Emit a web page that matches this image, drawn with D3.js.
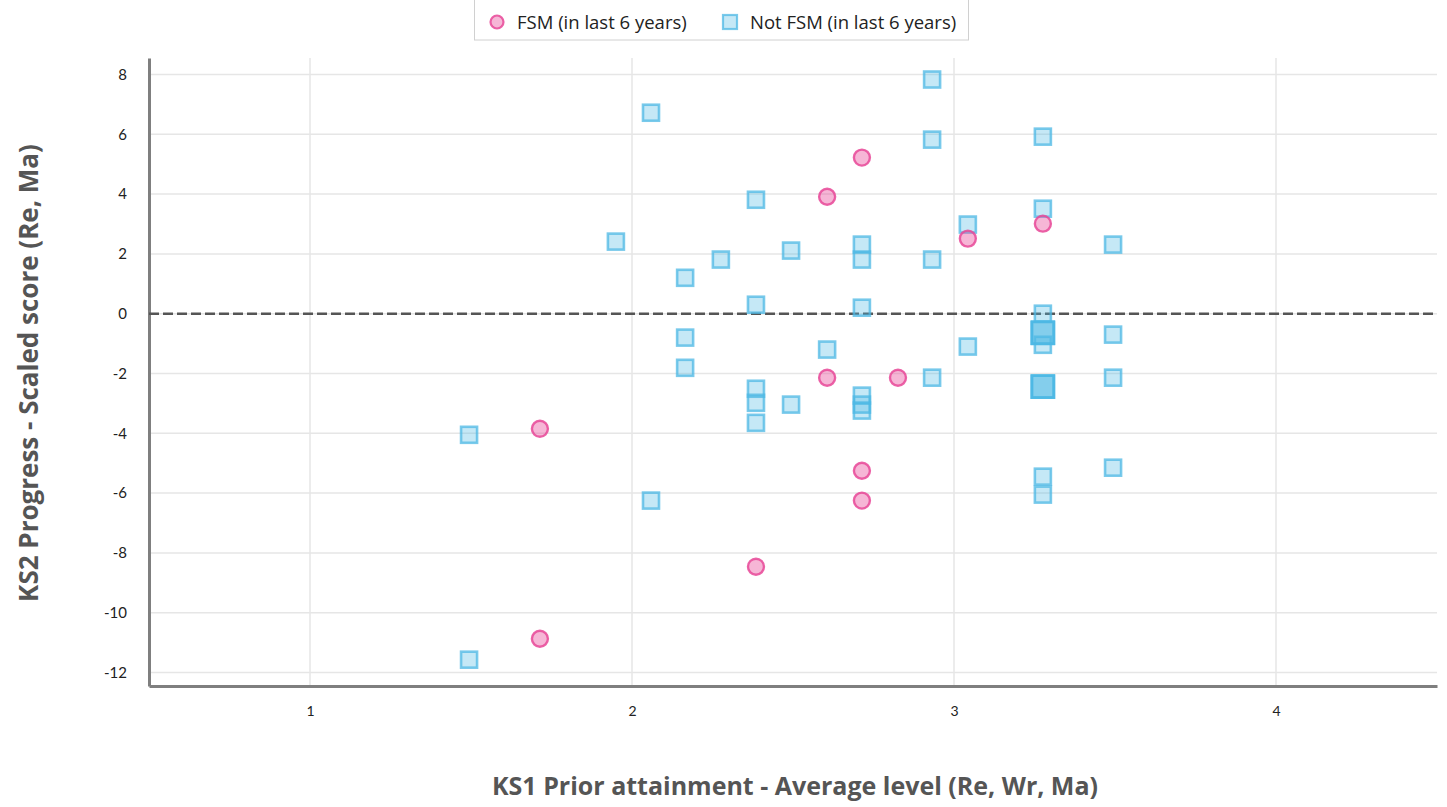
<!DOCTYPE html>
<html>
<head>
<meta charset="utf-8">
<script src="https://cdn.jsdelivr.net/npm/d3@7"></script>
<style>
  body { margin: 0; background: #fff; }
  svg { font-family: Lato, "Open Sans", sans-serif; }
</style>
</head>
<body>
<svg id="chart" width="1447" height="807"></svg>
<script>
// FSM pupils (circles)
const fsmX = [1.714, 1.714, 2.385, 2.606, 2.714, 2.606, 2.826, 2.714, 2.714, 3.043, 3.276];
const fsmY = [-3.85, -10.87, -8.46, 3.91, 5.22, -2.14, -2.14, -5.25, -6.25, 2.51, 3.01];

// Not FSM pupils (squares); count = pupils sharing the same spot
const notX = [1.494, 1.494, 1.950, 2.059, 2.059, 2.165, 2.165, 2.165, 2.276,
  2.385, 2.385, 2.385, 2.385, 2.385, 2.494, 2.494, 2.606,
  2.714, 2.714, 2.714, 2.714, 2.714, 2.714,
  2.932, 2.932, 2.932, 2.932, 3.043, 3.043,
  3.276, 3.276, 3.276, 3.276, 3.276, 3.276, 3.276, 3.276,
  3.494, 3.494, 3.494, 3.494];
const notY = [-4.05, -11.57, 2.41, 6.72, -6.25, 1.20, -0.80, -1.81, 1.81,
  3.81, 0.30, -2.51, -2.98, -3.65, 2.11, -3.04, -1.20,
  2.31, 1.81, 0.20, -2.74, -3.04, -3.24,
  7.83, 5.82, 1.81, -2.14, 2.98, -1.10,
  5.92, 3.51, 0.00, -0.64, -1.04, -2.44, -5.45, -6.05,
  2.31, -0.70, -2.14, -5.15];
const notCount = [1, 1, 1, 1, 1, 1, 1, 1, 1,
  1, 1, 1, 1, 1, 1, 1, 1,
  1, 1, 1, 1, 1, 1,
  1, 1, 1, 1, 1, 1,
  1, 1, 1, 3, 1, 3, 1, 1,
  1, 1, 1, 1];

const xTicks = [1, 2, 3, 4];
const yTicks = [-12, -10, -8, -6, -4, -2, 0, 2, 4, 6, 8];

const svg = d3.select('#chart');
const plotL = 149, plotR = 1437, plotT = 58, plotB = 686;

const x = d3.scaleLinear().domain([0.5, 4.5]).range([plotL, plotR]);
const y = d3.scaleLinear().domain([-12.45, 8.55]).range([plotB, plotT]);

const pink = 'rgb(232,72,152)';
const blue = 'rgb(78,184,228)';

// grid
svg.append('g').selectAll('line').data(xTicks).join('line')
    .attr('x1', d => x(d)).attr('x2', d => x(d))
    .attr('y1', plotT).attr('y2', plotB)
    .attr('stroke', '#e6e6e6').attr('stroke-width', 1.5);
svg.append('g').selectAll('line').data(yTicks).join('line')
    .attr('x1', plotL).attr('x2', plotR)
    .attr('y1', d => y(d)).attr('y2', d => y(d))
    .attr('stroke', '#e6e6e6').attr('stroke-width', 1.5);

// axes (plain hyphen for negatives, integers on x)
const yAxis = svg.append('g')
    .attr('transform', `translate(${plotL},0)`)
    .call(d3.axisLeft(y).tickValues(yTicks).tickFormat(d => String(d))
        .tickSize(0).tickPadding(22));
const xAxis = svg.append('g')
    .attr('transform', `translate(0,${plotB})`)
    .call(d3.axisBottom(x).tickValues(xTicks).tickFormat(d => String(d))
        .tickSize(0).tickPadding(20));
[yAxis, xAxis].forEach(g => {
    g.select('.domain').attr('stroke', '#7f7f7f').attr('stroke-width', 3);
    g.selectAll('text').attr('fill', '#222').style('font-family', 'Lato, sans-serif');
});
yAxis.selectAll('text').attr('font-size', 15);
xAxis.selectAll('text').attr('font-size', 14);

// zero line
svg.append('line')
    .attr('x1', plotL).attr('x2', plotR)
    .attr('y1', y(0)).attr('y2', y(0))
    .attr('stroke', '#555').attr('stroke-width', 2.5)
    .attr('stroke-dasharray', '10,4');

// Not FSM squares
const squares = [];
notX.forEach((v, i) => {
    for (let k = 0; k < notCount[i]; k++) {
        squares.push({ x: v, y: notY[i], big: notCount[i] > 1 });
    }
});
svg.append('g').selectAll('rect').data(squares).join('rect')
    .attr('x', d => x(d.x) - (d.big ? 11 : 8))
    .attr('y', d => y(d.y) - (d.big ? 11 : 8))
    .attr('width', d => d.big ? 22 : 16)
    .attr('height', d => d.big ? 22 : 16)
    .attr('fill', blue).attr('fill-opacity', 0.33)
    .attr('stroke', blue).attr('stroke-opacity', 0.75).attr('stroke-width', 2.6);

// FSM circles
svg.append('g').selectAll('circle').data(fsmX).join('circle')
    .attr('cx', d => x(d))
    .attr('cy', (d, i) => y(fsmY[i]))
    .attr('r', 8)
    .attr('fill', pink).attr('fill-opacity', 0.4)
    .attr('stroke', pink).attr('stroke-opacity', 0.85).attr('stroke-width', 2.4);

// axis titles
svg.append('text')
    .attr('x', 795).attr('y', 795)
    .attr('text-anchor', 'middle')
    .style('font-family', '"Open Sans", sans-serif')
    .attr('font-size', 25).attr('font-weight', 'bold').attr('fill', '#555')
    .text('KS1 Prior attainment - Average level (Re, Wr, Ma)');
svg.append('text')
    .attr('transform', 'translate(38,373) rotate(-90)')
    .attr('text-anchor', 'middle')
    .style('font-family', '"Open Sans", sans-serif')
    .attr('font-size', 26).attr('font-weight', 'bold').attr('fill', '#555')
    .text('KS2 Progress - Scaled score (Re, Ma)');

// legend
const lg = svg.append('g').style('font-family', '"Open Sans", sans-serif');
lg.append('rect').attr('x', 474.5).attr('y', -1).attr('width', 494).attr('height', 41)
    .attr('fill', '#fff').attr('stroke', '#d0d0d0');
lg.append('circle').attr('cx', 497).attr('cy', 22).attr('r', 6.5)
    .attr('fill', pink).attr('fill-opacity', 0.4)
    .attr('stroke', pink).attr('stroke-opacity', 0.85).attr('stroke-width', 2.2);
lg.append('text').attr('x', 517).attr('y', 28.5).attr('font-size', 18.5).attr('fill', '#222')
    .text('FSM (in last 6 years)');
lg.append('rect').attr('x', 723).attr('y', 15).attr('width', 14).attr('height', 14)
    .attr('fill', blue).attr('fill-opacity', 0.33)
    .attr('stroke', blue).attr('stroke-opacity', 0.75).attr('stroke-width', 2.2);
lg.append('text').attr('x', 750).attr('y', 28.5).attr('font-size', 18.5).attr('fill', '#222')
    .text('Not FSM (in last 6 years)');
</script>
</body>
</html>
